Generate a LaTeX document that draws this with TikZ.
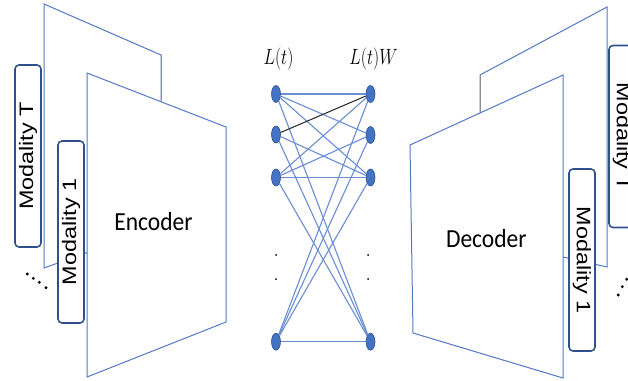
\documentclass[tikz,border=0pt]{standalone}
\usepackage{fontspec}
\usepackage{graphicx}
\newfontfamily\encfont{Carlito}
\newfontfamily\modfont{Liberation Sans}
\usetikzlibrary{shapes.geometric}
\definecolor{panelblue}{HTML}{5479C4}
\definecolor{panelgray}{HTML}{8A8F9A}
\definecolor{boxblue}{HTML}{2F528F}
\definecolor{nodeblue}{HTML}{4472C4}
\definecolor{linkblue}{HTML}{6A8DD3}
\tikzset{
  panel/.style={draw=panelblue, fill=white, line width=1pt, line join=miter},
  graypart/.style={draw=panelgray, line width=1pt},
  modbox/.style={draw=boxblue, fill=white, line width=1.6pt, rounded corners=4pt,
    inner sep=0pt, minimum width=182pt, minimum height=26pt,
    font=\modfont\fontsize{19.5}{20}\selectfont},
  unit/.style={ellipse, draw=boxblue, fill=nodeblue, line width=0.6pt,
    minimum width=9pt, minimum height=17pt, inner sep=0pt},
  link/.style={draw=linkblue, line width=1.1pt},
  darklink/.style={draw=black!85, line width=1pt},
  codername/.style={font=\encfont\fontsize{23.5}{24}\selectfont, inner sep=0pt},
  layername/.style={font=\fontsize{18.5}{20}\selectfont, inner sep=0pt},
  smalldot/.style={circle, fill=black, inner sep=0pt, minimum size=2pt},
  bigdot/.style={circle, fill=black, inner sep=0pt, minimum size=3.2pt}
}
\begin{document}
\begin{tikzpicture}[x=1pt,y=-1pt]
\useasboundingbox (0,0) rectangle (628,380);
\clip (0,0) rectangle (628,380);

% ---- encoder side ----
\path[panel] (44,4) -- (161,55) -- (161,226) -- (44,268) -- cycle;
\draw[graypart] (161,55) -- (161,100);
\node[modbox, rotate=90] (modTL) at (28,156) {\scalebox{1.2}[1]{Modality T}};
\node[modbox, rotate=90] (mod1L) at (71,232) {\scalebox{1.2}[1]{Modality 1}};
\path[panel] (87,73) -- (226,127) -- (226,322) -- (87,377) -- cycle;
\node[codername] (enc) at (153.5,222) {\scalebox{1}[1.11]{Encoder}};
\foreach \p [count=\i] in {(27.3,274),(33.3,278.3),(39.3,282.3),(46,287.7)}
  \node[bigdot] (ldot\i) at \p {};

% ---- decoder side ----
\path[panel] (480,75) -- (607,7) -- (607,267) -- (480,238) -- cycle;
\draw[graypart] (480,75) -- (480,115);
\node[modbox, rotate=-90] (modTR) at (622,136.5) {\scalebox{1.2}[1]{Modality T}};
\path[panel] (410,145) -- (563,75) -- (563,378) -- (413,333) -- cycle;
\node[modbox, rotate=-90] (mod1R) at (582,260) {\scalebox{1.2}[1]{Modality 1}};
\node[codername] (dec) at (486.3,239) {\scalebox{1}[1.11]{Decoder}};
\foreach \p [count=\i] in {(626.7,279.3),(622.3,286.7),(618.3,295)}
  \node[bigdot] (rdot\i) at \p {};

% ---- linear layer between the two ----
\node[layername] (lt)  at (278.5,59) {\scalebox{1}[1.28]{$L(t)$}};
\node[layername] (ltw) at (373.5,59) {\scalebox{1}[1.28]{$L(t)W$}};

\node[unit] (l1) at (276,94) {};
\node[unit] (l2) at (276,134.5) {};
\node[unit] (l3) at (276,177.5) {};
\node[unit] (ln) at (276,341.7) {};
\node[unit] (r1) at (370.5,94) {};
\node[unit] (r2) at (370.5,135) {};
\node[unit] (r3) at (370.5,177.5) {};
\node[unit] (rn) at (370.5,341.7) {};

\foreach \a/\b in {l1/r1,l1/r2,l1/r3,l1/rn,l2/r3,l2/rn,l3/r1,l3/r2,l3/r3,l3/rn,
                   ln/r1,ln/r2,ln/r3,ln/rn}
  \draw[link] (\a) -- (\b);
\draw[darklink] (l2) -- (r1);

\node[smalldot] (lv1) at (276,255) {};
\node[smalldot] (lv2) at (276,279) {};
\node[smalldot] (rv1) at (368,255) {};
\node[smalldot] (rv2) at (368,279) {};
\end{tikzpicture}
\end{document}
